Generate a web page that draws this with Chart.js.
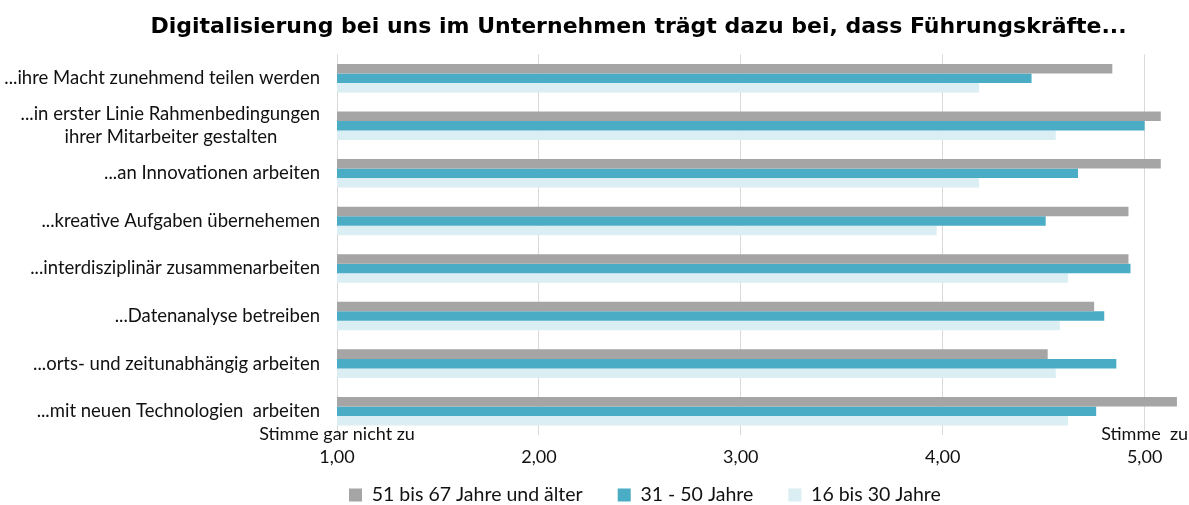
<!DOCTYPE html>
<html>
<head>
<meta charset="utf-8">
<script src="https://cdn.jsdelivr.net/npm/chart.js@4/dist/chart.umd.min.js"></script>
<style>
  html, body { margin: 0; padding: 0; background: #fff; }
  #wrap { width: 1189px; height: 505px; }
</style>
</head>
<body>
<div id="wrap"><canvas id="chart"></canvas></div>
<script>
const categories = [
  '...ihre Macht zunehmend teilen werden',
  ['...in erster Linie Rahmenbedingungen', 'ihrer Mitarbeiter gestalten         '],
  '...an Innovationen arbeiten',
  '...kreative Aufgaben übernehemen',
  '...interdisziplinär zusammenarbeiten',
  '...Datenanalyse betreiben',
  '...orts- und zeitunabhängig arbeiten',
  '...mit neuen Technologien  arbeiten'
]
const seriesNames = ['51 bis 67 Jahre und älter', '31 - 50 Jahre', '16 bis 30 Jahre']
const olderValues = [4.84, 5.08, 5.08, 4.92, 4.92, 4.75, 4.52, 5.16]
const middleValues = [4.44, 5.00, 4.67, 4.51, 4.93, 4.80, 4.86, 4.76]
const youngValues = [4.18, 4.56, 4.18, 3.97, 4.62, 4.58, 4.56, 4.62]
const tickValues = [1, 2, 3, 4, 5]
const tickTexts = [
  ['Stimme gar nicht zu', '1,00'],
  ['', '2,00'],
  ['', '3,00'],
  ['', '4,00'],
  ['Stimme  zu', '5,00']
]
const colors = ['#A5A5A5', '#4BACC6', '#DAEEF3']
const titleText = 'Digitalisierung bei uns im Unternehmen trägt dazu bei, dass Führungskräfte...'

const labelFont = 'Lato'
const legendSize = 19.5

// move title and legend to where the original has them
const placeBoxes = {
  id: 'placeBoxes',
  afterLayout(chart) {
    const t = chart.titleBlock
    t.left = 88
    t.right = 1189
    const lg = chart.legend
    const pad = lg.options.labels.padding
    lg.left = 349 - pad
    lg.top = 495 - pad - legendSize / 2
  }
}

const ctx = document.getElementById('chart').getContext('2d')
new Chart(ctx, {
  type: 'bar',
  data: {
    labels: categories,
    datasets: [olderValues, middleValues, youngValues].map((data, i) => ({
      label: seriesNames[i],
      data,
      backgroundColor: colors[i],
      borderWidth: 0,
      barPercentage: 1,
      categoryPercentage: 0.6
    }))
  },
  options: {
    indexAxis: 'y',
    responsive: true,
    maintainAspectRatio: false,
    devicePixelRatio: 1,
    animation: false,
    layout: { padding: { left: 0, right: 4, top: 0, bottom: 0 } },
    scales: {
      x: {
        min: 1,
        max: 5.2,
        afterBuildTicks: scale => {
          scale.ticks = tickValues.map(value => ({ value }))
        },
        afterFit: scale => {
          scale.height = 27
          // labels sit partly over the plot, so do not clip them to the axis box
          scale._computeLabelArea = () => undefined
        },
        ticks: {
          autoSkip: false,
          maxRotation: 0,
          padding: -12,
          color: '#111',
          font: { family: labelFont, size: 18, lineHeight: 23 / 18 },
          callback: value => tickTexts[tickValues.indexOf(value)] || ''
        },
        grid: { color: '#D9D9D9', drawTicks: false },
        border: { display: false }
      },
      y: {
        afterFit: scale => { scale.width = 337 },
        ticks: {
          autoSkip: false,
          padding: 17,
          color: '#111',
          font: { family: labelFont, size: 18.5, lineHeight: 23 / 18.5 }
        },
        grid: { display: false, drawTicks: false },
        border: { display: false }
      }
    },
    plugins: {
      title: {
        display: true,
        text: titleText,
        color: '#000',
        font: { family: 'DejaVu Sans', size: 22, weight: 'bold', lineHeight: 1.2 },
        padding: { top: 14, bottom: 14 }
      },
      legend: {
        position: 'bottom',
        align: 'start',
        maxHeight: 43,
        labels: {
          boxWidth: 13,
          boxHeight: 13,
          padding: 35,
          color: '#111',
          font: { family: labelFont, size: legendSize }
        }
      },
      tooltip: { enabled: false }
    }
  },
  plugins: [placeBoxes]
})
</script>
</body>
</html>
